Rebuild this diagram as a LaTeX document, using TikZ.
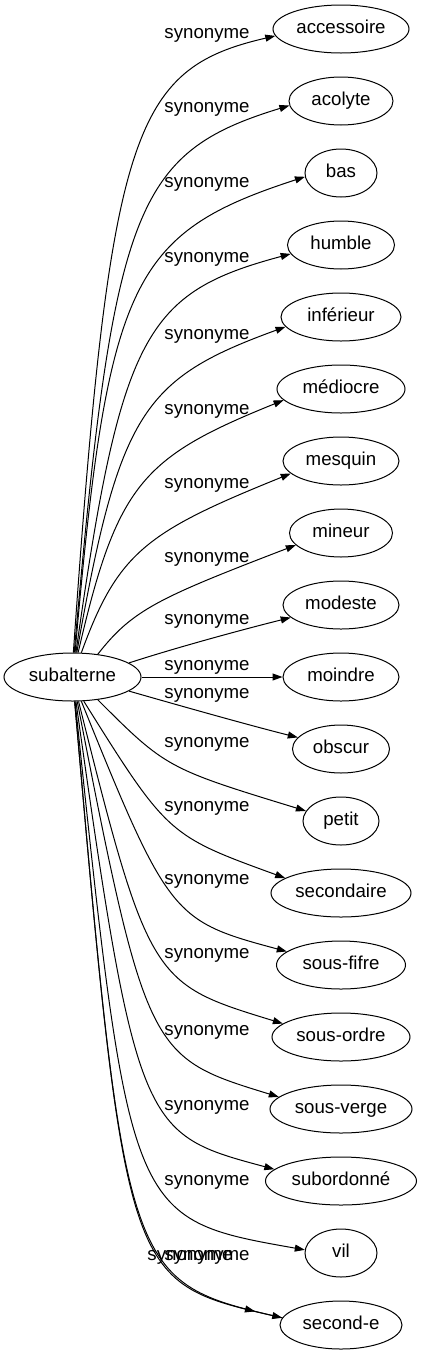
\documentclass[tikz,border=0pt]{standalone}
\usepackage{fontspec}
\setmainfont{Liberation Sans}
\usetikzlibrary{shapes.geometric,arrows.meta,decorations.markings}

\begin{document}
\begin{tikzpicture}
  [x = 1pt, y = -1pt,
   word/.style = {draw, ellipse, inner sep=0pt, minimum height=48pt, line width=1pt,
     font=\fontsize{18.67}{22}\selectfont, text height=13.5pt, text depth=4.5pt},
   lab/.style = {anchor=base, inner sep=0pt, font=\fontsize{18.67}{22}\selectfont},
   rel/.style = {line width=1pt, -{Triangle[length=10pt,width=7pt]}},
   midtip/.style = {line width=1pt, postaction={decorate}, decoration={markings,
     mark=at position -28pt with {\arrow{Triangle[length=10pt,width=7pt]}}}}]
    \useasboundingbox (0,0) rectangle (422,1355);

    \node[word, minimum width=137pt] (sub) at (72.5,677) {subalterne};

    \node[word, minimum width=136pt] (w1) at (341,29) {accessoire};
    \node[word, minimum width=104pt] (w2) at (341,101) {acolyte};
    \node[word, minimum width=72pt] (w3) at (341,173) {bas};
    \node[word, minimum width=107pt] (w4) at (341,245) {humble};
    \node[word, minimum width=120pt] (w5) at (341,317) {inférieur};
    \node[word, minimum width=128pt] (w6) at (341,389) {médiocre};
    \node[word, minimum width=116pt] (w7) at (341,461) {mesquin};
    \node[word, minimum width=103pt] (w8) at (341,533) {mineur};
    \node[word, minimum width=116pt] (w9) at (341,605) {modeste};
    \node[word, minimum width=116pt] (w10) at (341,677) {moindre};
    \node[word, minimum width=97pt] (w11) at (341,749) {obscur};
    \node[word, minimum width=76pt] (w12) at (341,821) {petit};
    \node[word, minimum width=140pt] (w13) at (341,893) {secondaire};
    \node[word, minimum width=129pt] (w14) at (341,965) {sous-fifre};
    \node[word, minimum width=138pt] (w15) at (341,1037) {sous-ordre};
    \node[word, minimum width=142pt] (w16) at (341,1109) {sous-verge};
    \node[word, minimum width=151pt] (w17) at (341,1181) {subordonné};
    \node[word, minimum width=72pt] (w18) at (341,1253) {vil};
    \node[word, minimum width=122pt] (w19) at (341,1325) {second-e};

    \node[lab] (l1) at (207,38) {synonyme};
    \node[lab] (l2) at (207,112) {synonyme};
    \node[lab] (l3) at (207,187) {synonyme};
    \node[lab] (l4) at (207,262) {synonyme};
    \node[lab] (l5) at (207,339) {synonyme};
    \node[lab] (l6) at (207,414) {synonyme};
    \node[lab] (l7) at (207,488) {synonyme};
    \node[lab] (l8) at (207,562) {synonyme};
    \node[lab] (l9) at (207,624) {synonyme};
    \node[lab] (l10) at (207,670) {synonyme};
    \node[lab] (l11) at (207,698) {synonyme};
    \node[lab] (l12) at (207,747) {synonyme};
    \node[lab] (l13) at (207,811) {synonyme};
    \node[lab] (l14) at (207,884) {synonyme};
    \node[lab] (l15) at (207,958) {synonyme};
    \node[lab] (l16) at (207,1035) {synonyme};
    \node[lab] (l17) at (207,1110) {synonyme};
    \node[lab] (l18) at (207,1185) {synonyme};
    \node[lab] (l19) at (190,1260) {synonyme};
    \node[lab] (l20) at (207,1260) {synonyme};

    \draw[rel] (sub.88) to[out=86, in=193, out distance=523pt, in distance=147pt] (w1.186);
    \draw[rel] (sub.86) to[out=85, in=197, out distance=447pt, in distance=162pt] (w2.185);
    \draw[rel] (sub.84) to[out=85, in=198, out distance=373pt, in distance=183pt] (w3.186);
    \draw[rel] (sub.82) to[out=82, in=195, out distance=323pt, in distance=150pt] (w4.190);
    \draw[rel] (sub.80) to[out=80, in=200, out distance=244pt, in distance=152pt] (w5.190);
    \draw[rel] (sub.77) to[out=77, in=202, out distance=173pt, in distance=153pt] (w6.191);
    \draw[rel] (sub.70) to[out=70, in=202, out distance=107pt, in distance=156pt] (w7.194);
    \draw[rel] (sub.42) to[out=52, in=201, out distance=56pt, in distance=148pt] (w8.195);
    \draw[rel] (sub.14) to[out=18, in=194, out distance=50pt, in distance=50pt] (w9.194);
    \draw[rel] (sub.east) -- (w10.west);
    \draw[rel] (sub.-14) to[out=-16, in=166, out distance=50pt, in distance=50pt] (w11.165);
    \draw[rel] (sub.-42) to[out=-45, in=163, out distance=96pt, in distance=145pt] (w12.164);
    \draw[rel] (sub.-65) to[out=-58, in=160, out distance=158pt, in distance=124pt] (w13.165);
    \draw[rel] (sub.-70) to[out=-68, in=165, out distance=233pt, in distance=118pt] (w14.166);
    \draw[rel] (sub.-76) to[out=-76, in=163, out distance=290pt, in distance=136pt] (w15.167);
    \draw[rel] (sub.-79) to[out=-79, in=163, out distance=361pt, in distance=135pt] (w16.169);
    \draw[rel] (sub.-82) to[out=-82, in=165, out distance=435pt, in distance=136pt] (w17.170);
    \draw[rel] (sub.-84) to[out=-84, in=170, out distance=520pt, in distance=178pt] (w18.175);
    \draw[rel] (sub.-85) to[out=-85, in=167, out distance=582pt, in distance=160pt] (w19.173);
    \draw[midtip] (sub.-85) to[out=-85, in=167, out distance=582pt, in distance=160pt] (w19.173);
  \end{tikzpicture}
\end{document}
